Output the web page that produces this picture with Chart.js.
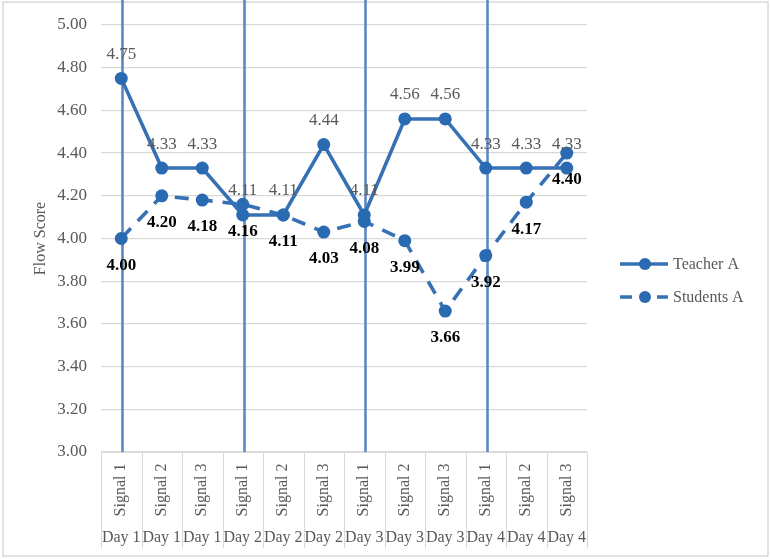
<!DOCTYPE html>
<html>
<head>
<meta charset="utf-8">
<script src="https://cdn.jsdelivr.net/npm/chart.js@4"></script>
<style>
  html, body { margin: 0; padding: 0; background: #ffffff; }
  #wrap { width: 771px; height: 559px; position: relative; }
</style>
</head>
<body>
<div id="wrap"><canvas id="chart" width="771" height="559"></canvas></div>
<script>
// Category rows: signal within each day, and the day itself
const signals = ['Signal 1', 'Signal 2', 'Signal 3', 'Signal 1', 'Signal 2', 'Signal 3',
                 'Signal 1', 'Signal 2', 'Signal 3', 'Signal 1', 'Signal 2', 'Signal 3'];
const days = ['Day 1', 'Day 1', 'Day 1', 'Day 2', 'Day 2', 'Day 2',
              'Day 3', 'Day 3', 'Day 3', 'Day 4', 'Day 4', 'Day 4'];

// Flow scores
const teacherA = [4.75, 4.33, 4.33, 4.11, 4.11, 4.44, 4.11, 4.56, 4.56, 4.33, 4.33, 4.33];
const studentsA = [4.00, 4.20, 4.18, 4.16, 4.11, 4.03, 4.08, 3.99, 3.66, 3.92, 4.17, 4.40];

// Value axis
const yMin = 3.0;
const yMax = 5.0;
const yStep = 0.2;

const seriesNames = ['Teacher A', 'Students A'];

const SERIF = '"Liberation Serif", "DejaVu Serif", serif';
const GREY_TEXT = '#595959';
const GRID = '#d9d9d9';
const LINE_BLUE = '#3670b5';
const MARK_BLUE = '#2a6ab3';
const DAY_LINE = '#5b88c0';
const STUDENT_DASH = [14, 10];

// Outer frame and white background
const framePlugin = {
  id: 'frame',
  beforeDraw(chart) {
    const ctx = chart.ctx;
    ctx.save();
    ctx.fillStyle = '#ffffff';
    ctx.fillRect(0, 0, chart.width, chart.height);
    ctx.strokeStyle = GRID;
    ctx.lineWidth = 1.5;
    ctx.strokeRect(3, 2, chart.width - 6, chart.height - 5);
    ctx.restore();
  }
};

// Day separators (at each day's first signal) and the two-row category table
const categoryPlugin = {
  id: 'categoryTable',
  beforeDatasetsDraw(chart) {
    const ctx = chart.ctx;
    const x = chart.scales.x;
    const area = chart.chartArea;
    ctx.save();
    ctx.strokeStyle = DAY_LINE;
    ctx.lineWidth = 2.6;
    days.forEach((d, i) => {
      if (i === 0 || d !== days[i - 1]) {
        const px = Math.round(x.getPixelForValue(i)) + 1.5;
        ctx.beginPath();
        ctx.moveTo(px, 0);
        ctx.lineTo(px, area.bottom);
        ctx.stroke();
      }
    });
    ctx.restore();
  },
  afterDraw(chart) {
    const ctx = chart.ctx;
    const x = chart.scales.x;
    const area = chart.chartArea;
    const step = x.getPixelForValue(1) - x.getPixelForValue(0);
    const tableBottom = area.bottom + 96;
    ctx.save();
    // axis line and separators
    ctx.strokeStyle = GRID;
    ctx.lineWidth = 1;
    ctx.beginPath();
    ctx.moveTo(area.left, area.bottom + 0.5);
    ctx.lineTo(area.right, area.bottom + 0.5);
    ctx.stroke();
    for (let i = 0; i <= signals.length; i++) {
      const px = Math.round(x.getPixelForValue(0) - step / 2 + i * step) + 0.5;
      ctx.beginPath();
      ctx.moveTo(px, area.bottom);
      ctx.lineTo(px, tableBottom);
      ctx.stroke();
    }
    ctx.fillStyle = GREY_TEXT;
    ctx.font = '16px ' + SERIF;
    signals.forEach((s, i) => {
      const px = x.getPixelForValue(i);
      ctx.save();
      ctx.translate(px, area.bottom + 38);
      ctx.rotate(-Math.PI / 2);
      ctx.textAlign = 'center';
      ctx.textBaseline = 'middle';
      ctx.fillText(s, 0, 0);
      ctx.restore();
    });
    ctx.textAlign = 'center';
    ctx.textBaseline = 'middle';
    days.forEach((d, i) => {
      ctx.fillText(d, x.getPixelForValue(i), area.bottom + 86);
    });
    ctx.restore();
  }
};

// Value labels: teacher above its points, students below in bold
const valueLabelPlugin = {
  id: 'valueLabels',
  afterDatasetsDraw(chart) {
    const ctx = chart.ctx;
    ctx.save();
    ctx.textAlign = 'center';
    ctx.textBaseline = 'middle';
    const tMeta = chart.getDatasetMeta(0);
    ctx.font = '17px ' + SERIF;
    ctx.fillStyle = GREY_TEXT;
    tMeta.data.forEach((pt, i) => {
      ctx.fillText(teacherA[i].toFixed(2), pt.x, pt.y - 24);
    });
    const sMeta = chart.getDatasetMeta(1);
    ctx.font = 'bold 17px ' + SERIF;
    ctx.fillStyle = '#000000';
    sMeta.data.forEach((pt, i) => {
      ctx.fillText(studentsA[i].toFixed(2), pt.x, pt.y + 27);
    });
    ctx.restore();
  }
};

// Legend on the right: line sample with marker, then the series name
const legendPlugin = {
  id: 'sideLegend',
  afterDraw(chart) {
    const ctx = chart.ctx;
    const x0 = 620, x1 = 668, cx = 645;
    const rows = [264, 297];
    ctx.save();
    rows.forEach((y, k) => {
      ctx.strokeStyle = LINE_BLUE;
      ctx.lineWidth = 3.5;
      ctx.beginPath();
      if (k === 0) {
        ctx.moveTo(x0, y);
        ctx.lineTo(x1, y);
      } else {
        ctx.moveTo(x0, y);
        ctx.lineTo(x0 + 12, y);
        ctx.moveTo(x1 - 11, y);
        ctx.lineTo(x1, y);
      }
      ctx.stroke();
      ctx.fillStyle = MARK_BLUE;
      ctx.beginPath();
      ctx.arc(cx, y, 6, 0, Math.PI * 2);
      ctx.fill();
      ctx.fillStyle = GREY_TEXT;
      ctx.font = '16px ' + SERIF;
      ctx.textAlign = 'left';
      ctx.textBaseline = 'middle';
      ctx.fillText(seriesNames[k], 673, y + 1);
    });
    ctx.restore();
  }
};

const labels = signals.map((s, i) => [s, days[i]]);

new Chart(document.getElementById('chart'), {
  type: 'line',
  data: {
    labels: labels,
    datasets: [
      {
        label: seriesNames[0],
        data: teacherA,
        borderColor: LINE_BLUE,
        backgroundColor: MARK_BLUE,
        borderWidth: 3.6,
        pointRadius: 6.5,
        pointBorderWidth: 0,
        pointBackgroundColor: MARK_BLUE,
        tension: 0,
        fill: false
      },
      {
        label: seriesNames[1],
        data: studentsA,
        borderColor: LINE_BLUE,
        backgroundColor: MARK_BLUE,
        borderWidth: 3.6,
        borderDash: STUDENT_DASH,
        pointRadius: 6.5,
        pointBorderWidth: 0,
        pointBackgroundColor: MARK_BLUE,
        tension: 0,
        fill: false
      }
    ]
  },
  options: {
    responsive: false,
    animation: false,
    events: [],
    layout: { padding: { left: 0, top: 25, right: 184, bottom: 107 } },
    plugins: {
      legend: { display: false },
      tooltip: { enabled: false },
      title: { display: false }
    },
    scales: {
      x: {
        type: 'category',
        display: false,
        offset: true
      },
      y: {
        min: yMin,
        max: yMax,
        afterFit(scale) { scale.width = 101; },
        border: { display: false },
        grid: { color: GRID, lineWidth: 1.2, drawTicks: false },
        ticks: {
          stepSize: yStep,
          padding: 14,
          color: GREY_TEXT,
          font: { family: SERIF, size: 17 },
          callback: (v) => Number(v).toFixed(2)
        },
        title: {
          display: true,
          text: 'Flow Score',
          color: GREY_TEXT,
          font: { family: SERIF, size: 16 },
          padding: { top: 31, bottom: 0 }
        }
      }
    }
  },
  plugins: [framePlugin, categoryPlugin, valueLabelPlugin, legendPlugin]
});
</script>
</body>
</html>
